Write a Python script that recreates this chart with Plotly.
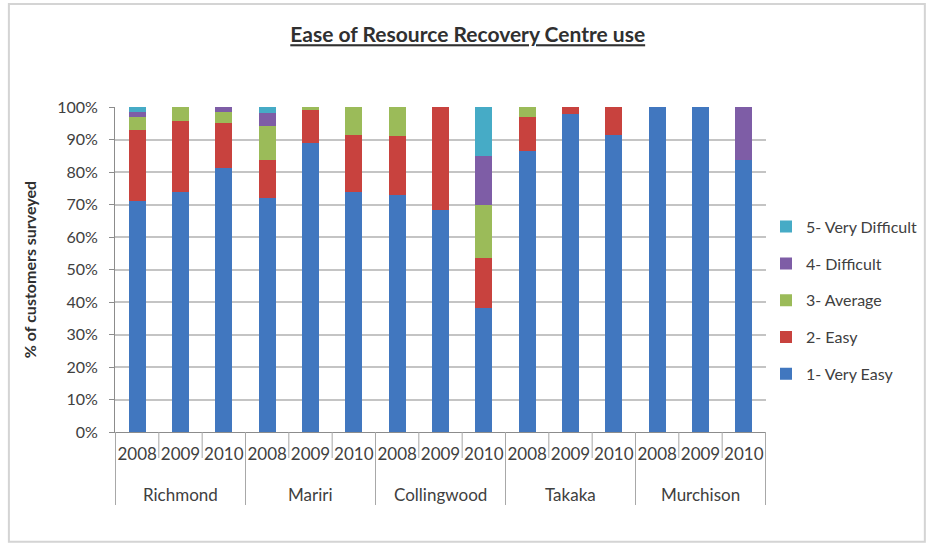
import plotly.graph_objects as go

# Survey sites and survey years (two-level category axis)
sites = ["Richmond", "Mariri", "Collingwood", "Takaka", "Murchison"]
years = ["2008", "2009", "2010"]

# Percentage of customers per rating, one value per site/year (site-major order)
very_easy = [71.0, 74.0, 81.3, 72.0, 89.0, 74.0, 73.0, 68.2, 38.1, 86.5, 97.7, 91.5, 100.0, 100.0, 83.7]
easy = [22.0, 21.6, 13.8, 11.7, 10.0, 17.3, 18.0, 31.8, 15.4, 10.4, 2.3, 8.5, 0.0, 0.0, 0.0]
average = [4.0, 4.4, 3.4, 10.4, 1.0, 8.7, 9.0, 0.0, 16.2, 3.1, 0.0, 0.0, 0.0, 0.0, 0.0]
difficult = [1.5, 0.0, 1.5, 4.1, 0.0, 0.0, 0.0, 0.0, 15.3, 0.0, 0.0, 0.0, 0.0, 0.0, 16.3]
very_difficult = [1.5, 0.0, 0.0, 1.8, 0.0, 0.0, 0.0, 0.0, 15.0, 0.0, 0.0, 0.0, 0.0, 0.0, 0.0]

series_names = ["1- Very Easy", "2- Easy", "3- Average", "4- Difficult", "5- Very Difficult"]
series_values = [very_easy, easy, average, difficult, very_difficult]
series_colors = ["#4177BF", "#C8423E", "#9BBB59", "#7E5DA6", "#46ABC6"]

# One category per site/year pair; the tick shows only the year
categories = [f"{s} {y}" for s in sites for y in years]
cat_years = [y for _ in sites for y in years]

FONT = "Lato"
TEXT = "#404040"
GRID = "#C4C4C4"
AXIS = "#8C8C8C"
SEP = "#A8A8A8"

fig = go.Figure()
n = len(series_names)
for i, (name, vals, color) in enumerate(zip(series_names, series_values, series_colors)):
    fig.add_trace(go.Bar(
        x=categories,
        y=vals,
        name=name,
        legendgroup=name,
        legendrank=n - i,
        marker=dict(color=color, line=dict(width=0)),
    ))

fig.update_layout(
    width=928,
    height=545,
    barmode="stack",
    bargap=0.61,
    plot_bgcolor="white",
    paper_bgcolor="white",
    margin=dict(l=115, r=162, t=107, b=113, autoexpand=False),
    font=dict(family=FONT, size=16, color=TEXT),
    title=dict(
        text="<b><u>Ease of Resource Recovery Centre use</u></b>",
        x=0.504, xanchor="center",
        y=0.936, yanchor="middle",
        font=dict(family=FONT, size=21, color="#303030"),
    ),
    legend=dict(
        x=1.0, xanchor="left",
        y=0.684, yanchor="top",
        traceorder="grouped",
        tracegroupgap=13,
        font=dict(family=FONT, size=16, color=TEXT),
        itemwidth=30,
    ),
    showlegend=True,
)

fig.update_yaxes(
    range=[0, 100],
    dtick=10,
    ticksuffix="%",
    showgrid=True,
    gridcolor=GRID,
    gridwidth=1.5,
    showline=True,
    linecolor=AXIS,
    linewidth=1,
    ticks="outside",
    ticklen=5,
    tickcolor=AXIS,
    zeroline=False,
    ticklabelstandoff=8,
    tickfont=dict(family=FONT, size=16, color=TEXT),
    title=dict(text="<b>% of customers surveyed</b>", standoff=16,
               font=dict(family=FONT, size=16, color="#303030")),
)

fig.update_xaxes(
    type="category",
    tickmode="array",
    tickvals=categories,
    ticktext=cat_years,
    showline=True,
    linecolor=AXIS,
    linewidth=1,
    ticks="",
    ticklabelstandoff=7,
    tickfont=dict(family=FONT, size=17, color=TEXT),
)

# Separators below the axis: short ones between years, long ones between sites
n_cat = len(categories)
per_site = len(years)
for k in range(n_cat + 1):
    long_line = k % per_site == 0
    fig.add_shape(
        type="line", xref="x", yref="paper",
        x0=k - 0.5, x1=k - 0.5, y0=0, y1=-0.2246 if long_line else -0.08,
        line=dict(color=SEP, width=1),
    )

# Site names centred under their three years
for j, site in enumerate(sites):
    fig.add_annotation(
        x=j * per_site + (per_site - 1) / 2, xref="x",
        y=-0.191, yref="paper", yanchor="middle",
        text=site, showarrow=False,
        font=dict(family=FONT, size=17, color=TEXT),
    )

# Light frame round the whole chart
fig.add_shape(
    type="rect", xref="paper", yref="paper",
    x0=-0.163, x1=1.244, y0=-0.338, y1=1.317,
    line=dict(color="#D4D4D4", width=2),
    fillcolor="rgba(0,0,0,0)",
)

fig.write_html("out.html")
